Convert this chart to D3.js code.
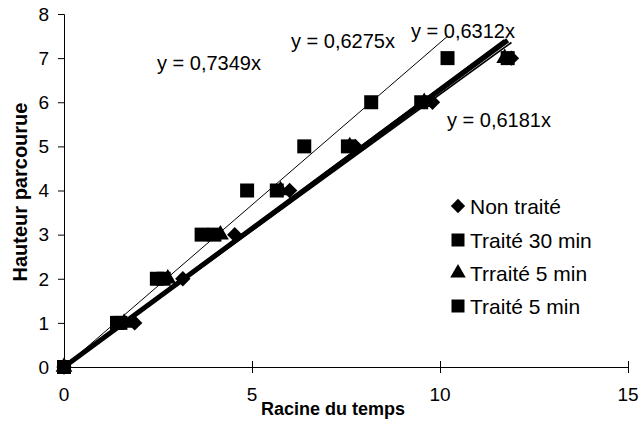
<!DOCTYPE html>
<html><head><meta charset="utf-8">
<script src="https://cdn.jsdelivr.net/npm/d3@7"></script>
<style>
html,body{margin:0;padding:0;background:#fff;}
text{font-family:"Liberation Sans",Arial,sans-serif;fill:#000;}
</style></head>
<body><svg id="c" width="640" height="425"></svg>
<script>
// ---- data ----
const seriesNames = ["Non traité", "Traité 30 min", "Trraité 5 min", "Traité 5 min"];
const yValues = [0, 1, 2, 3, 4, 5, 6, 7];
const xNonTraite = [0, 1.88, 3.16, 4.54, 6.0, 7.75, 9.8, 11.9];
const xTraite30 = [0, 1.41, 2.47, 3.66, 4.87, 6.39, 8.17, 10.2];
const xTrraite5 = [0, 1.6, 2.76, 4.16, 5.76, 7.6, 9.58, 11.72];
const xTraite5 = [0, 1.5, 2.65, 4.0, 5.66, 7.55, 9.5, 11.8];
const slopes = [0.6181, 0.7349, 0.6312, 0.6275];
const slopeLabels = ["y = 0,6181x", "y = 0,7349x", "y = 0,6312x", "y = 0,6275x"];
const xTicks = [0, 5, 10, 15];
const yTicks = [0, 1, 2, 3, 4, 5, 6, 7, 8];
const xTitle = "Racine du temps";
const yTitle = "Hauteur parcourue";

// ---- layout ----
const svg = d3.select("#c");
const x = d3.scaleLinear().domain([0, 15]).range([64, 628]);
const y = d3.scaleLinear().domain([0, 8]).range([367, 14]);

const seriesX = [xNonTraite, xTraite30, xTrraite5, xTraite5];
const shapes = ["diamond", "square", "triangle", "square"];
const lineWidths = [1.8, 1, 3, 5];
const labelPos = [[447, 127], [157, 70], [411, 38], [291, 48]];

function markerPath(shape, s) {
  if (shape === "diamond") { const h = s * 0.55; return `M0,${-h}L${h},0L0,${h}L${-h},0Z`; }
  if (shape === "square") { const h = s / 2; return `M${-h},${-h}H${h}V${h}H${-h}Z`; }
  return d3.symbol(d3.symbolTriangle, s * s * 0.62)();
}

// axes
const gx = svg.append("g").attr("transform", `translate(0,${y(0)})`)
  .call(d3.axisBottom(x).tickValues(xTicks).tickSize(0).tickFormat(""));
gx.select(".domain").attr("stroke", "#000").attr("stroke-width", 1);
xTicks.forEach(t => {
  svg.append("line").attr("x1", x(t)).attr("x2", x(t)).attr("y1", y(0) - 6).attr("y2", y(0) + 6)
    .attr("stroke", "#000").attr("stroke-width", 1).attr("shape-rendering", "crispEdges");
  svg.append("text").attr("x", x(t)).attr("y", 401).attr("text-anchor", "middle")
    .attr("font-size", 19).text(t);
});
const gy = svg.append("g").attr("transform", `translate(${x(0)},0)`)
  .call(d3.axisLeft(y).tickValues(yTicks).tickSize(6).tickFormat(""));
gy.select(".domain").attr("stroke", "#000").attr("stroke-width", 1);
gy.selectAll(".tick line").attr("stroke", "#000");
yTicks.forEach(t => {
  svg.append("text").attr("x", 49).attr("y", y(t)).attr("dy", "0.36em").attr("text-anchor", "end")
    .attr("font-size", 19).text(t);
});

// trend lines
[1, 0, 2, 3].forEach(i => {
  const xmax = d3.max(seriesX[i]);
  svg.append("line").attr("x1", x(0)).attr("y1", y(0)).attr("x2", x(xmax)).attr("y2", y(slopes[i] * xmax))
    .attr("stroke", "#000").attr("stroke-width", lineWidths[i]);
});

// markers
seriesX.forEach((xs, i) => {
  svg.append("g").selectAll("path").data(xs.map((v, j) => [v, yValues[j]])).join("path")
    .attr("transform", d => `translate(${x(d[0])},${y(d[1])})`)
    .attr("d", markerPath(shapes[i], 14)).attr("fill", "#000");
});

// equation labels
slopeLabels.forEach((s, i) => {
  svg.append("text").attr("x", labelPos[i][0]).attr("y", labelPos[i][1]).attr("font-size", 20).text(s);
});

// legend
const legY = [206, 240, 273, 306];
seriesNames.forEach((n, i) => {
  svg.append("path").attr("transform", `translate(458,${legY[i]})`).attr("d", markerPath(shapes[i], 13)).attr("fill", "#000");
  svg.append("text").attr("x", 470).attr("y", legY[i]).attr("dy", "0.36em").attr("font-size", 21).text(n);
});

// axis titles
svg.append("text").attr("x", 333).attr("y", 415).attr("text-anchor", "middle")
  .attr("font-size", 18).attr("font-weight", "bold").text(xTitle);
svg.append("text").attr("transform", "translate(27,192) rotate(-90)").attr("text-anchor", "middle")
  .attr("font-size", 20).attr("font-weight", "bold").text(yTitle);
</script></body></html>
